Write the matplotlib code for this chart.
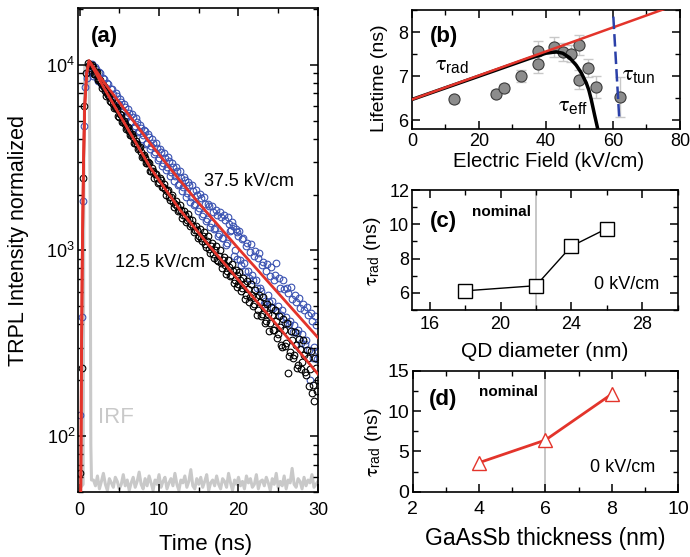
import numpy as np
import matplotlib
matplotlib.use("Agg")
import matplotlib.pyplot as plt
from matplotlib.ticker import MultipleLocator, LogLocator, NullFormatter

plt.rcParams.update({
    "font.family": ["Liberation Sans", "DejaVu Sans"],
    "mathtext.fontset": "custom",
    "mathtext.rm": "Liberation Sans",
    "mathtext.it": "STIXGeneral",
    "mathtext.bf": "Liberation Sans:bold",
    "mathtext.sf": "Liberation Sans",
    "axes.linewidth": 1.2,
    "xtick.direction": "in", "ytick.direction": "in",
    "xtick.top": True, "ytick.right": True,
    "xtick.major.size": 6, "ytick.major.size": 6,
    "xtick.minor.size": 3.5, "ytick.minor.size": 3.5,
    "xtick.major.width": 1.1, "ytick.major.width": 1.1,
    "xtick.minor.width": 1.0, "ytick.minor.width": 1.0,
    "xtick.labelsize": 13, "ytick.labelsize": 13,
    "axes.labelsize": 14,
})

RED = "#e3342b"
BLUE = "#3b53b2"
GREY_IRF = "#c9c9c9"

# ---------------- (a) TRPL transients ----------------
channel_ns = 0.25
decay_start_a = 1.25     # first channel of the even bins
decay_start_b = 1.375    # first channel of the odd bins

# 12.5 kV/cm: rising edge and decay counts
rise_t_12 = [0.1, 0.3, 0.45, 0.6, 0.8, 1.0]
rise_12 = [63, 234, 2450, 6000, 9000, 10200]
decay_12_a = [10000, 9550, 9770, 8910, 9120, 8320, 7940, 7760, 7240, 7080,
              6760, 6310, 6170, 5890, 5750, 5250, 5370, 4900, 4790, 4570,
              4370, 4170, 4070, 3800, 3720, 3550, 3390, 3240, 3160, 2950,
              2950, 2690, 2690, 2570, 2450, 2340, 2400, 2190, 2140, 2090,
              1950, 1950, 1820, 1780, 1740, 1660, 1660, 1550, 1550, 1450,
              1480, 1380, 1350, 1290, 1290, 1200, 1170, 1200, 1080, 1120,
              1020, 1050, 955, 1000, 891, 933, 851, 891, 832, 776,
              813, 741, 776, 692, 741, 661, 692, 631, 661, 575,
              617, 562, 575, 513, 562, 479, 525, 457, 490, 417,
              457, 407, 447, 372, 417, 355, 389, 302, 372, 316,
              220, 282, 331, 275, 309, 240, 295, 251, 275, 214,
              263, 229, 170, 155, 234, 200]
decay_12_b = [9930, 10000, 8870, 8990, 8260, 8320, 7500,
              7600, 6790, 6900, 6400, 6500, 5870, 5900, 5280, 5420, 4940, 4970, 4510,
              4600, 4190, 4260, 3770, 3860, 3520, 3590, 3180, 3270, 2950, 3010, 2680,
              2790, 2460, 2580, 2320, 2450, 2190, 2290, 2000, 2110, 1880, 1990, 1710,
              1840, 1640,
              1750, 1500, 1630, 1430, 1570, 1360, 1460, 1250, 1360, 1160, 1310, 1120,
              1250, 1040,
              1190, 970, 1100, 906, 1050, 875, 1010, 807, 923, 745, 889, 728, 849, 664,
              783, 632,
              766, 604, 714, 545, 682, 526, 659, 502, 615, 448, 574, 443, 561, 408,
              512, 368, 494, 372, 478, 336,
              441, 310, 425, 305, 405, 269, 369, 265, 364, 233, 335, 230, 331, 222,
              291, 187, 287, 189, 265, 174]

# 37.5 kV/cm: rising edge and decay counts
rise_t_37 = [0.05, 0.3, 0.45, 0.55, 0.7, 0.9, 1.05]
rise_37 = [130, 440, 1850, 4700, 7600, 8500, 9100]
decay_37_a = [9120, 9330, 8710, 9770, 8510, 9120, 7940, 8510, 7590, 7940,
              7080, 7410, 6920, 6310, 6760, 6170, 6310, 5620, 5890, 5370,
              5500, 4900, 5250, 4680, 4900, 4370, 4570, 4170, 4370, 3800,
              4070, 3630, 3800, 3390, 3550, 3160, 3390, 2950, 3160, 2820,
              3020, 2630, 2820, 2510, 2690, 2290, 2450, 2190, 2400, 2040,
              2240, 1950, 2090, 1780, 2000, 1700, 1910, 1580, 1780, 1480,
              1740, 1410, 1620, 1320, 1550, 1230, 1510, 1170, 1450, 1100,
              1380, 1290, 1350, 1000, 1260, 1200, 891, 1150, 851, 1050,
              776, 977, 741, 933, 692, 912, 631, 832, 513, 776,
              575, 724, 537, 692, 851, 501, 631, 479, 617, 437,
              589, 417, 550, 398, 525, 372, 490, 355, 479, 331,
              447, 200, 417, 302, 398, 288]
decay_37_b = [9330, 10100, 8890, 9530, 8180, 8970, 7730,
              8380, 7230, 7850, 6840, 7430, 6490, 7050, 6010, 6520, 5560, 6110, 5330,
              5790, 4940, 5430, 4570, 5140, 4340, 4760, 3970, 4470, 3760, 4230, 3520,
              3960, 3310, 3780, 3080, 3510, 2860, 3330, 2720, 3180, 2530, 2950, 2360,
              2810, 2240, 2680, 2090, 2470, 1950, 2350, 1830, 2240, 1750, 2110,
              1630, 2010, 1540, 1930, 1440, 1780, 1340, 1740, 1300, 1660, 1200,
              1610, 1160, 1560, 1070, 1510, 1270, 1420, 935, 1310, 904,
              1270, 836, 1170, 773, 1090, 714, 1080, 692, 995, 625, 964, 605,
              871, 535, 843, 530, 817, 490, 738, 474,
              714, 449, 692, 406, 625, 402, 634, 363, 573, 360, 555, 318,
              513, 315, 497, 291, 459, 263, 445, 261]

# fitted transients (rise + decay)
fit_t_12 = [0.15, 0.25, 0.35, 0.5, 0.65, 0.9, 1.2, 3, 6, 9, 12.6, 16, 20, 25, 30]
fit_12 = [50, 300, 1000, 3000, 6000, 9000, 10500, 7590, 4570, 2750, 1660,
          1100, 692, 389, 216]
fit_t_37 = [0.15, 0.25, 0.35, 0.5, 0.65, 0.9, 1.2, 3, 6, 9, 12, 14.7, 20, 25, 30]
fit_37 = [50, 300, 1000, 3000, 6000, 9000, 10500, 8130, 5500, 3720, 2570,
          1860, 1023, 589, 339]

# instrument response function: pulse, then background
irf_peak_t = [0.0, 0.45, 0.55, 0.65, 0.9, 1.2, 1.33, 1.42, 1.5]
irf_peak = [52, 55, 3000, 9800, 10100, 9000, 2000, 90, 58]
irf_tail = [58, 54, 61, 52, 57, 63, 55, 51, 59, 56, 53, 60, 57, 52, 55, 62,
            54, 58, 51, 56, 60, 53, 57, 64, 55, 52, 59, 54, 61, 56, 51, 58,
            55, 62, 53, 57, 60, 52, 56, 59, 54, 63, 55, 51, 58, 56, 61, 53,
            57, 66, 54, 52, 59, 55, 60, 53, 57, 62, 51, 56, 58, 54, 61, 55,
            52, 59, 57, 53, 63, 56, 51, 58, 55, 60, 54, 57, 52, 61, 56, 59,
            53, 55, 62, 52, 57, 58, 54, 60, 56, 51, 59, 55, 63, 53, 57, 54,
            61, 52, 58, 56, 67, 55, 53, 59, 57, 52, 60, 54, 58, 56, 62, 53,
            55, 57]
irf_tail_start_ns = 1.75

# ---------------- (b) lifetime vs field ----------------
field = [12.5, 25, 27.5, 32.5, 37.5, 37.5, 42.5, 45, 47.5, 50, 50, 52.5, 55, 62]
lifetime = [6.48, 6.60, 6.73, 7.01, 7.57, 7.27, 7.66, 7.55, 7.51, 7.71, 6.92,
            7.18, 6.75, 6.52]
lifetime_err = [0.08, 0.08, 0.08, 0.14, 0.22, 0.2, 0.23, 0.2, 0.2, 0.23, 0.22,
                0.2, 0.25, 0.45]
rad_field = [0, 80]
tau_rad = [6.47, 8.65]
eff_field = [0, 20, 35, 40, 43, 45, 47, 49, 50.5, 51.2, 52, 52.8, 53.5, 54.5, 55.6]
tau_eff = [6.47, 7.0, 7.4, 7.52, 7.55, 7.52, 7.42, 7.25, 7.08, 6.97, 6.85,
           6.68, 6.47, 6.12, 5.75]
tun_field = [60.1, 61.9]
tau_tun = [8.35, 6.0]

# ---------------- (c) QD diameter ----------------
qd_diameter = [18, 22, 24, 26]
tau_rad_qd = [6.12, 6.42, 8.72, 9.75]

# ---------------- (d) GaAsSb thickness ----------------
gaassb_thickness = [4, 6, 8]
tau_rad_gaassb = [3.6, 6.4, 12.1]


def channels(start, n):
    return list(start + channel_ns * np.arange(n))


fig = plt.figure(figsize=(6.9, 5.57), dpi=100)
TAU = r"$\tau_{\mathrm{%s}}$"

# ---- panel (a)
axa = fig.add_axes([0.1130, 0.1167, 0.3478, 0.8689])
axa.set_yscale("log")
irf_t = list(irf_peak_t) + channels(irf_tail_start_ns, len(irf_tail))
axa.plot(irf_t, list(irf_peak) + list(irf_tail), color=GREY_IRF, lw=2.2, zorder=1)

t37 = (list(rise_t_37) + channels(decay_start_a, len(decay_37_a))
       + channels(decay_start_b, len(decay_37_b)))
c37 = list(rise_37) + list(decay_37_a) + list(decay_37_b)
t12 = (list(rise_t_12) + channels(decay_start_a, len(decay_12_a))
       + channels(decay_start_b, len(decay_12_b)))
c12 = list(rise_12) + list(decay_12_a) + list(decay_12_b)
axa.plot(t37, c37, "o", mfc="none", mec=BLUE, ms=4.8, mew=0.8, zorder=2)
axa.plot(t12, c12, "o", mfc="none", mec="black", ms=4.8, mew=0.8, zorder=3)
axa.plot(fit_t_12, fit_12, color=RED, lw=2.0, zorder=4)
axa.plot(fit_t_37, fit_37, color=RED, lw=2.0, zorder=4)

axa.set_xlim(-0.2, 30)
axa.set_ylim(50, 2.02e4)
axa.xaxis.set_major_locator(MultipleLocator(10))
axa.xaxis.set_minor_locator(MultipleLocator(5))
axa.yaxis.set_major_locator(LogLocator(base=10, numticks=10))
axa.yaxis.set_minor_locator(LogLocator(base=10, subs=np.arange(2, 10), numticks=10))
axa.yaxis.set_minor_formatter(NullFormatter())
axa.tick_params(axis="x", pad=7)
axa.tick_params(axis="y", pad=2)
axa.set_xlabel("Time (ns)", fontsize=16)
axa.set_ylabel("TRPL Intensity normalized", fontsize=15.5)
axa.xaxis.set_label_coords(0.53, -0.086)
axa.yaxis.set_label_coords(-0.204, 0.52)
axa.text(1.4, 13300, "(a)", fontsize=16, fontweight="bold", va="baseline")
axa.text(15.6, 2210, "37.5 kV/cm", fontsize=13, va="baseline")
axa.text(4.4, 811, "12.5 kV/cm", fontsize=13, va="baseline")
axa.text(2.3, 117, "IRF", fontsize=16, color=GREY_IRF, va="baseline")

# ---- panel (b)
axb = fig.add_axes([0.5971, 0.7684, 0.3884, 0.2136])
axb.errorbar(field, lifetime, yerr=lifetime_err, fmt="none", ecolor="#c8c8c8",
             elinewidth=1.0, capsize=3.5, capthick=1.0, zorder=1)
axb.plot(field, lifetime, "o", ms=8, mfc="#8c8c8c", mec="#3a3a3a", mew=0.8, zorder=2)
axb.plot(eff_field, tau_eff, color="black", lw=2.5, zorder=3)
axb.plot(rad_field, tau_rad, color=RED, lw=1.8, zorder=4)
axb.plot(tun_field, tau_tun, color="#2b40a8", lw=1.8, ls=(0, (5, 2)), zorder=4)
axb.set_xlim(0, 80)
axb.set_ylim(5.8, 8.5)
axb.xaxis.set_major_locator(MultipleLocator(20))
axb.xaxis.set_minor_locator(MultipleLocator(10))
axb.yaxis.set_major_locator(MultipleLocator(1))
axb.yaxis.set_minor_locator(MultipleLocator(0.5))
axb.tick_params(axis="x", pad=3)
axb.tick_params(axis="y", pad=3)
axb.set_xlabel("Electric Field (kV/cm)", fontsize=14.6)
axb.set_ylabel("Lifetime (ns)")
axb.xaxis.set_label_coords(0.51, -0.19)
axb.yaxis.set_label_coords(-0.09, 0.43)
axb.text(5.2, 7.77, "(b)", fontsize=16, fontweight="bold", va="baseline")
axb.text(7, 7.13, TAU % "rad", fontsize=16, va="baseline")
axb.text(43.5, 6.2, TAU % "eff", fontsize=16, va="baseline")
axb.text(62.6, 6.92, TAU % "tun", fontsize=16, va="baseline")

# ---- panel (c)
axc = fig.add_axes([0.5971, 0.4434, 0.3848, 0.2154])
axc.axvline(22, color="#bdbdbd", lw=1.2, zorder=0)
axc.plot(qd_diameter, tau_rad_qd, "-s", color="black", lw=1.0, ms=10.5,
         mfc="white", mec="black", mew=1.0)
axc.set_xlim(15, 30)
axc.set_ylim(5, 12)
axc.xaxis.set_major_locator(MultipleLocator(4))
axc.xaxis.set_minor_locator(MultipleLocator(2))
axc.yaxis.set_major_locator(MultipleLocator(2))
axc.yaxis.set_minor_locator(MultipleLocator(1))
axc.tick_params(axis="x", pad=4)
axc.tick_params(axis="y", pad=2)
axc.set_xlabel("QD diameter (nm)", fontsize=15)
axc.set_ylabel(TAU % "rad" + " (ns)")
axc.xaxis.set_label_coords(0.50, -0.263)
axc.yaxis.set_label_coords(-0.109, 0.49)
axc.text(16.0, 9.85, "(c)", fontsize=16, fontweight="bold", va="baseline")
axc.text(21.7, 10.5, "nominal", fontsize=11, fontweight="bold", ha="right", va="baseline")
axc.text(25.3, 6.2, "0 kV/cm", fontsize=13, va="baseline")

# ---- panel (d)
axd = fig.add_axes([0.5981, 0.1172, 0.3845, 0.2172])
axd.axvline(6, color="#bdbdbd", lw=1.2, zorder=0)
axd.plot(gaassb_thickness, tau_rad_gaassb, "-^", color=RED, lw=2.0, ms=10,
         mfc="white", mec=RED, mew=1.0)
axd.set_xlim(2, 10)
axd.set_ylim(0, 15)
axd.xaxis.set_major_locator(MultipleLocator(2))
axd.xaxis.set_minor_locator(MultipleLocator(1))
axd.yaxis.set_major_locator(MultipleLocator(5))
axd.yaxis.set_minor_locator(MultipleLocator(2.5))
axd.tick_params(axis="both", labelsize=14)
axd.tick_params(axis="x", pad=7)
axd.tick_params(axis="y", pad=2.5)
axd.set_xlabel("GaAsSb thickness (nm)", fontsize=16.5)
axd.set_ylabel(TAU % "rad" + " (ns)")
axd.xaxis.set_label_coords(0.50, -0.288)
axd.yaxis.set_label_coords(-0.11, 0.41)
axd.text(2.5, 10.7, "(d)", fontsize=16, fontweight="bold", va="baseline")
axd.text(5.78, 11.86, "nominal", fontsize=11, fontweight="bold", ha="right", va="baseline")
axd.text(7.34, 2.48, "0 kV/cm", fontsize=13, va="baseline")

fig.savefig("out.png", dpi=100)
